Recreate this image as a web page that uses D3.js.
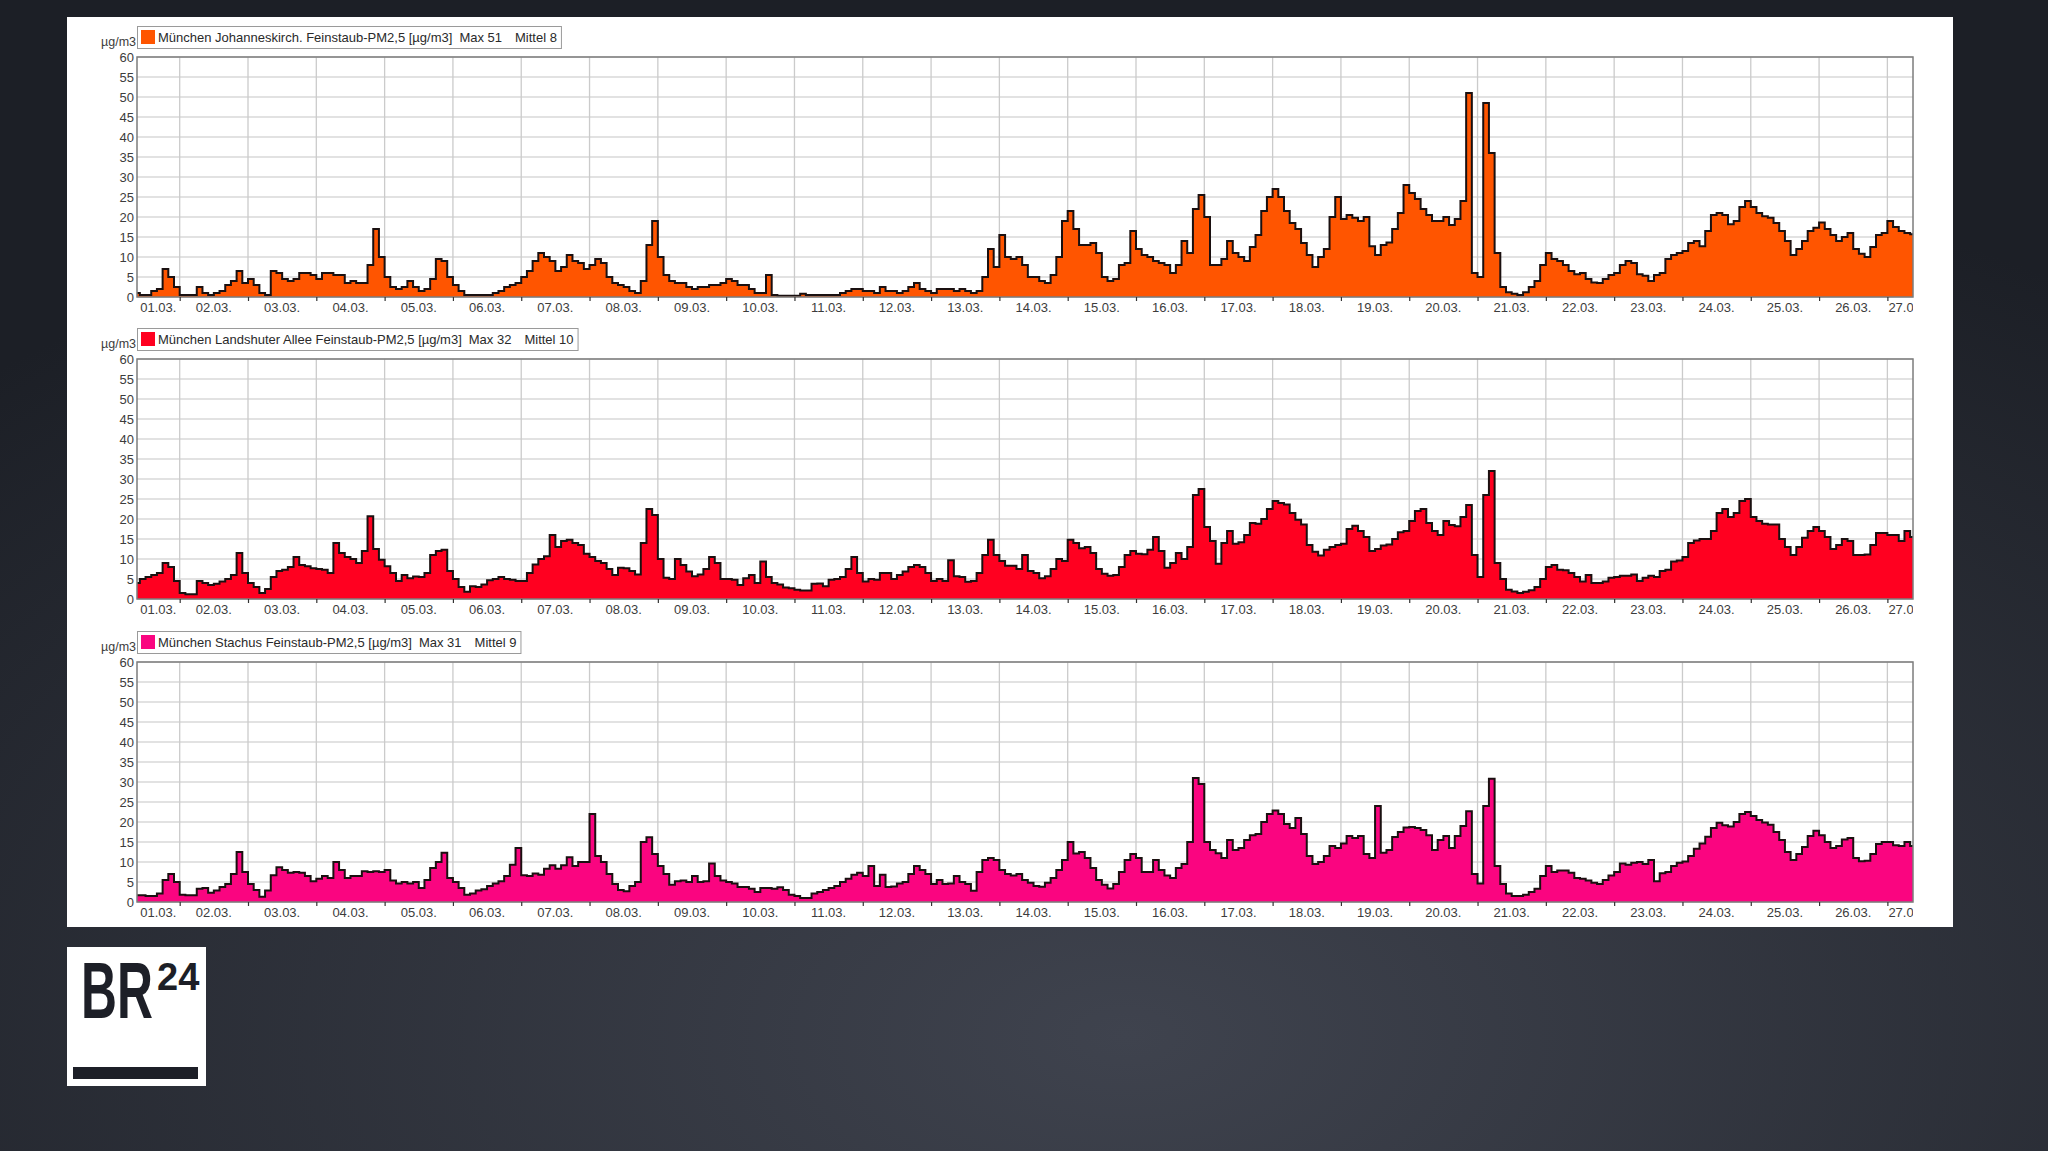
<!DOCTYPE html>
<html><head><meta charset="utf-8">
<script src="https://cdn.jsdelivr.net/npm/d3@7"></script>
<style>
html,body{margin:0;padding:0;background:#22252d;overflow:hidden}
svg{display:block}
text{font-family:"Liberation Sans",Arial,sans-serif}
</style></head><body>
<svg id="chart" width="2048" height="1151"></svg>
<script>
// ---------- DATA ----------
const dayLabels = ["01.03.","02.03.","03.03.","04.03.","05.03.","06.03.","07.03.","08.03.","09.03.","10.03.",
  "11.03.","12.03.","13.03.","14.03.","15.03.","16.03.","17.03.","18.03.","19.03.","20.03.",
  "21.03.","22.03.","23.03.","24.03.","25.03.","26.03.","27.03."];
const yTicks = [0,5,10,15,20,25,30,35,40,45,50,55,60];
const yUnit = "µg/m3";
const stationNames = [
  "München Johanneskirch. Feinstaub-PM2,5 [µg/m3]",
  "München Landshuter Allee Feinstaub-PM2,5 [µg/m3]",
  "München Stachus Feinstaub-PM2,5 [µg/m3]"];
const stationMax = [51, 32, 31];
const stationMean = [8, 10, 9];
// 2-hour values, first bin starts 01.03. 08:00
const johanneskirchen = [
  1,0.5,0.5,1.5,2,7,5,2.5,
  0.5,0.5,0.5,2.5,1,0.5,1,1.5,3,4,6.5,3.5,
  4.5,3,1,0.5,6.5,6,4.5,4,4.5,6,6,5.5,
  4.5,6,6,5.5,5.5,3.5,4,3.5,3.5,8,17,10,
  5,2.5,2,2.5,4,2.5,1.5,2,4.5,9.5,9,5,
  3,1.5,0.5,0.5,0.5,0.5,0.5,1,1.5,2.5,3,3.5,
  5,6.5,9,11,10,9,6.5,7.5,10.5,9,8.5,7,
  8,9.5,8.5,5,3.5,3,2.5,1.5,1,4,13,19,
  10,5.5,4,3.5,3.5,2.5,2,2.5,2.5,3,3,3.5,
  4.5,4,3,3,2,1,1,5.5,0.5,0.3,0.3,0.3,
  0.3,0.8,0.5,0.5,0.5,0.5,0.5,0.5,1,1.5,2,2,
  1.5,1.5,1,2.5,1.5,1.5,1,1.5,2.5,3.5,2,1.5,
  1,2,2,2,1.5,2,1.5,1,1.5,5,12,7.5,
  15.5,10,9.5,10,8,5,5,4,3.5,5.5,10,19,
  21.5,17,13,13,13.5,11,5,4,4.5,8,8.5,16.5,
  12,10.5,10,9,8.5,8,6,8,14,11,22,25.5,
  20,8,8,9.5,14,11,10,9,12.5,15.5,21.5,25,
  27,25,21.5,18.5,17,13.5,10.5,7.5,10,12,20,25,
  19.5,20.5,19.8,19,20,12.7,10.5,13,13.6,17,21,28,
  26,24.5,22,20.5,19,19,20,18,19.5,24,51,6,
  5,48.5,36,11,2.5,1.2,0.8,0.5,1.2,2.5,4,8,
  11,9.5,9,8,6.5,5.7,6,4.5,3.6,3.5,4.5,5.5,
  6,8,9,8.5,5.7,5.3,4,5.5,6,9.5,10.5,11,
  11.5,13.5,14,12.7,16.5,20.5,21,20.5,18.2,19,22.5,24,
  22.5,21,20.2,19.8,18.5,16.5,14,10.5,12,14,16.5,17.3,
  18.6,17,15.5,14,15,16,12,10.8,10,12.5,15.5,16,
  19,17.5,16.5,16,15.7];
const landshuterAllee = [
  4,5,5.5,6,6.5,9,8,4.5,
  1.5,1.2,1.2,4.5,4,3.5,3.8,4.4,5,6,11.5,6.5,
  4,3,1.5,2.5,5.5,7,7.3,8,10.5,8.5,8.2,7.7,
  7.5,7.3,6.5,14,11.5,10.5,10,9,12,20.7,12.5,9.8,
  8.2,6.5,4.5,6,5.2,5.6,5.5,6.5,11,12,12.3,7,
  5,3,1.8,3.2,3,3.6,4.7,5,5.5,5,4.8,4.5,
  4.5,6.5,8.6,10,10.7,16,13,14.5,14.8,14,13.5,11.3,
  10.5,9.5,9,7.5,6,7.8,7.7,7,6.1,14,22.5,21,
  10,5.3,5,10,8.5,6.9,5.7,6.1,7.5,10.5,9,5,
  5,4.8,3.5,5.2,6,4,9.4,5.5,4,3.6,2.9,2.7,
  2.3,2.1,2.1,3.8,3.9,3.2,4.8,5,5.5,7.5,10.5,6.5,
  4.4,5,4.8,6.5,6.5,5,6,6.9,8,8.5,8,6.5,
  4.5,5,4.5,9.7,5.7,5.5,4.3,4.5,6.5,11,14.8,11,
  9.5,8.3,8.3,7.5,11,7,6.5,5.2,5.7,7.5,10,9.5,
  14.8,14,12.7,13,11.5,7.5,6.3,5.8,6,8,11,12,
  11.3,11.2,12.3,15.5,12,7.8,9,11.5,10,13,26,27.5,
  18,14.5,8.8,14,17,13.8,14.2,16,19,18.8,20,22.5,
  24.5,24,23.6,21.5,19.8,18.6,13.5,11.8,10.9,12.3,13,13.5,
  13.8,17.5,18.3,17,15.5,12,12.5,13.4,13.6,15,16.7,17,
  19.5,22,22.5,19,17,16,19.5,18.5,18.2,20.5,23.5,11,
  5.5,26,32,9,5,2.3,1.9,1.5,1.8,2.2,3,5,
  8,8.5,7.3,7.2,6.5,5.5,4.4,6,4,4,4.4,5.3,
  5.5,5.8,5.8,6.1,4.5,5.3,5.8,5.5,7,7.3,9.4,9.6,
  10.5,14,14.6,15,15,17,21.5,22.5,20.5,21.5,24.5,25,
  20.5,19.5,18.8,18.6,18.6,15,13,11,13,15.3,17,18,
  17,15.5,12.5,13.5,15,14.5,11,11,11.1,13.5,16.5,16.5,
  16,16,14.5,17,15.5];
const stachus = [
  1.7,1.7,1.5,1.5,2.1,5.5,7,5,
  1.8,1.7,1.7,3.3,3.5,2.3,2.9,3.75,4.5,7,12.5,7.5,
  4.5,3,1.3,2.9,6.7,8.7,8,7.3,7.5,7.3,6.5,5.2,
  5.8,6.5,6,10,8,6,6.5,6.5,7.7,7.5,7.7,7.5,
  8,5.4,4.6,5,4.6,5,3.5,5.5,8.5,10,12.3,6,
  5,3.5,1.8,2.1,2.9,3.2,4,4.6,5.2,6.5,9.3,13.5,
  6.7,6.5,7.1,6.8,8.3,9.2,8.3,9.2,11.2,9,10,10,
  22,11.5,10,7,4.5,3,2.7,4,5,15,16.2,12,
  9,7,4.3,5.2,5.4,5,6.5,5,5.2,9.6,6.5,5.4,
  5,4.6,3.75,3.75,3.3,2.5,3.5,3.5,3.3,3.7,3,1.8,
  1.5,1,1,2.1,2.5,3,3.5,4,5,5.8,6.8,7.3,
  6.5,9,4,6.8,3.75,3.9,4.6,5,7,9,8,7,
  4.5,5.5,4.5,4.6,6.5,5,4.5,2.8,7.5,10.5,11,10.5,
  8,7,6.6,7,5.5,4.8,4,3.8,4.8,6,8,10.5,
  15,12.1,12.5,11,8.5,5.5,4.3,3.4,4.5,7.5,10.5,12,
  11,7.5,7.5,10.5,8,6.6,6,8.5,9.5,15,31,29.5,
  15,13,12.2,11,15.5,13,13.5,15.5,16.7,17,20,22,
  22.9,22,19.5,18.5,21,17,11.5,9.5,10,11.5,14,13.5,
  14.6,16.5,16,16.5,12,11,24,12.3,13,16.25,17.5,18.6,
  18.75,18.5,18,16.7,13,15.5,16.5,13.5,16.5,19,22.7,7,
  4.6,24,30.8,9,4.5,2.1,1.5,1.5,1.8,2.5,3.3,6.5,
  9,7.5,7.9,7.9,7.3,6,5.8,5.4,4.8,4.5,5.5,6.6,
  7.5,9.6,9.3,9.8,10,9.5,10.5,5.2,7.2,7.5,9,9.8,
  10.1,11.5,13.3,14.6,16.3,18.5,19.8,19.2,18.9,20,22,22.5,
  21.5,20.5,19.9,19.3,17.5,15.5,12.5,10.5,12,13.75,16.5,17.8,
  16.7,15,13.5,14,15.6,16,11,10.2,10.3,12,14.5,15,
  15,14.2,14,15,14];
const seriesColors = ["#ff5500", "#ff0020", "#fa0580"];

// ---------- LAYOUT ----------
const W = 2048, H = 1151;
const svg = d3.select("#chart");
const defs = svg.append("defs");
const bg = defs.append("radialGradient").attr("id","bg")
  .attr("cx","0.55").attr("cy","0.9").attr("r","0.8");
bg.append("stop").attr("offset","0").attr("stop-color","#3f434e");
bg.append("stop").attr("offset","1").attr("stop-color","#1c1f26");
svg.append("rect").attr("width",W).attr("height",H).attr("fill","url(#bg)");
svg.append("rect").attr("x",67).attr("y",17).attr("width",1886).attr("height",910).attr("fill","#ffffff");

const plotL = 137, plotR = 1913, panelH = 240;
const panelTops = [57, 359, 662];
const t0 = new Date(Date.UTC(2020,2,1,9)), t1 = new Date(Date.UTC(2020,2,27,9));
const x = d3.scaleUtc().domain([t0, t1]).range([plotL, plotR]);
const binStart = Date.UTC(2020,2,1,8), binMs = 2*3600*1000;
const days = d3.utcDay.range(t0, t1);

defs.append("clipPath").attr("id","plotClip").append("rect")
  .attr("x",plotL).attr("y",0).attr("width",plotR-plotL).attr("height",H);
defs.append("clipPath").attr("id","labelClip").append("rect")
  .attr("x",0).attr("y",0).attr("width",plotR).attr("height",H);

const allData = [johanneskirchen, landshuterAllee, stachus];
const font = '"Liberation Sans", Arial, sans-serif';

allData.forEach((data, i) => {
  const top = panelTops[i];
  const color = seriesColors[i];
  const y = d3.scaleLinear().domain([0,60]).range([top+panelH, top]);
  const g = svg.append("g");

  // horizontal grid
  g.selectAll(null).data(yTicks).join("line")
    .attr("x1",plotL).attr("x2",plotR).attr("y1",d=>y(d)).attr("y2",d=>y(d))
    .attr("stroke","#e2e2e2").attr("stroke-width",2);
  // vertical grid
  g.selectAll(null).data(days).join("line")
    .attr("x1",d=>x(d)).attr("x2",d=>x(d)).attr("y1",top).attr("y2",top+panelH)
    .attr("stroke","#cbcbcb").attr("stroke-width",1.3);

  // data
  const pts = data.map((v,k)=>({t:new Date(binStart+k*binMs), v}));
  pts.push({t:new Date(binStart+data.length*binMs), v:data[data.length-1]});
  const area = d3.area().curve(d3.curveStepAfter).x(d=>x(d.t)).y0(y(0)).y1(d=>y(d.v));
  const line = d3.line().curve(d3.curveStepAfter).x(d=>x(d.t)).y(d=>y(d.v));
  const dg = g.append("g").attr("clip-path","url(#plotClip)");
  dg.append("path").datum(pts).attr("d",area).attr("fill",color);
  dg.append("path").datum(pts).attr("d",line).attr("fill","none")
    .attr("stroke","#1a1010").attr("stroke-width",2);

  // border
  g.append("rect").attr("x",plotL).attr("y",top).attr("width",plotR-plotL).attr("height",panelH)
    .attr("fill","none").attr("stroke","#7c7c7c").attr("stroke-width",1.5);

  // y axis
  const ya = g.append("g").attr("transform",`translate(${plotL},0)`)
    .call(d3.axisLeft(y).tickValues(yTicks).tickSize(0).tickPadding(3));
  ya.select(".domain").remove();
  ya.selectAll("text").attr("font-size",13).attr("font-family",font).attr("fill","#3c3c3c");

  // x axis ticks
  const xa = g.append("g").attr("transform",`translate(0,${top+panelH})`)
    .call(d3.axisBottom(x).tickValues(days).tickSize(4).tickFormat(""));
  xa.select(".domain").remove();
  xa.selectAll("line").attr("stroke","#333").attr("stroke-width",1.2);

  // x labels (centered in visible part of each day)
  const lg = g.append("g").attr("clip-path","url(#labelClip)");
  dayLabels.forEach((lab, d) => {
    const ds = new Date(Date.UTC(2020,2,1+d)), de = new Date(Date.UTC(2020,2,2+d));
    const v0 = Math.max(x(ds), plotL), v1 = Math.min(x(de), plotR);
    const t = lg.append("text").attr("y",top+panelH+15).attr("font-size",13)
      .attr("font-family",font).attr("fill","#3c3c3c").text(lab);
    const w = t.node().getComputedTextLength();
    if (w <= v1 - v0) t.attr("x",(v0+v1)/2).attr("text-anchor","middle");
    else t.attr("x",v0+1).attr("text-anchor","start");
  });

  // unit label
  g.append("text").attr("x",plotL-1).attr("y",top-11).attr("text-anchor","end")
    .attr("font-size",12.5).attr("font-family",font).attr("fill","#3c3c3c").text(yUnit);

  // legend
  const ly = top - 31;
  const leg = g.append("g");
  const box = leg.append("rect").attr("x",plotL+0.5).attr("y",ly+0.5).attr("height",22)
    .attr("fill","#fff").attr("stroke","#9a9a9a");
  leg.append("rect").attr("x",plotL+4).attr("y",ly+4).attr("width",14).attr("height",14).attr("fill",color);
  const tx = (xx, s) => leg.append("text").attr("x",xx).attr("y",ly+16).attr("font-size",13)
    .attr("font-family",font).attr("fill","#2a2a2a").text(s);
  const a = tx(plotL+21, stationNames[i]);
  const xb = plotL+21 + a.node().getComputedTextLength() + 7;
  const b = tx(xb, "Max " + stationMax[i]);
  const xc = xb + b.node().getComputedTextLength() + 13;
  const c = tx(xc, "Mittel " + stationMean[i]);
  const xe = xc + c.node().getComputedTextLength() + 4;
  box.attr("width", xe - plotL);
});

// ---------- LOGO ----------
const logo = svg.append("g");
logo.append("rect").attr("x",67).attr("y",947).attr("width",139).attr("height",139).attr("fill","#ffffff");
logo.append("text").attr("transform","translate(81,1018) scale(0.63,1)")
  .attr("font-size",79).attr("font-weight",700).attr("font-family",font)
  .attr("fill","#1d1f27").text("BR");
logo.append("text").attr("x",157).attr("y",990).attr("font-size",38).attr("font-weight",700)
  .attr("font-family",font).attr("fill","#1d1f27").text("24");
logo.append("rect").attr("x",73).attr("y",1067).attr("width",125).attr("height",12).attr("fill","#1d1f27");
</script>
</body></html>
